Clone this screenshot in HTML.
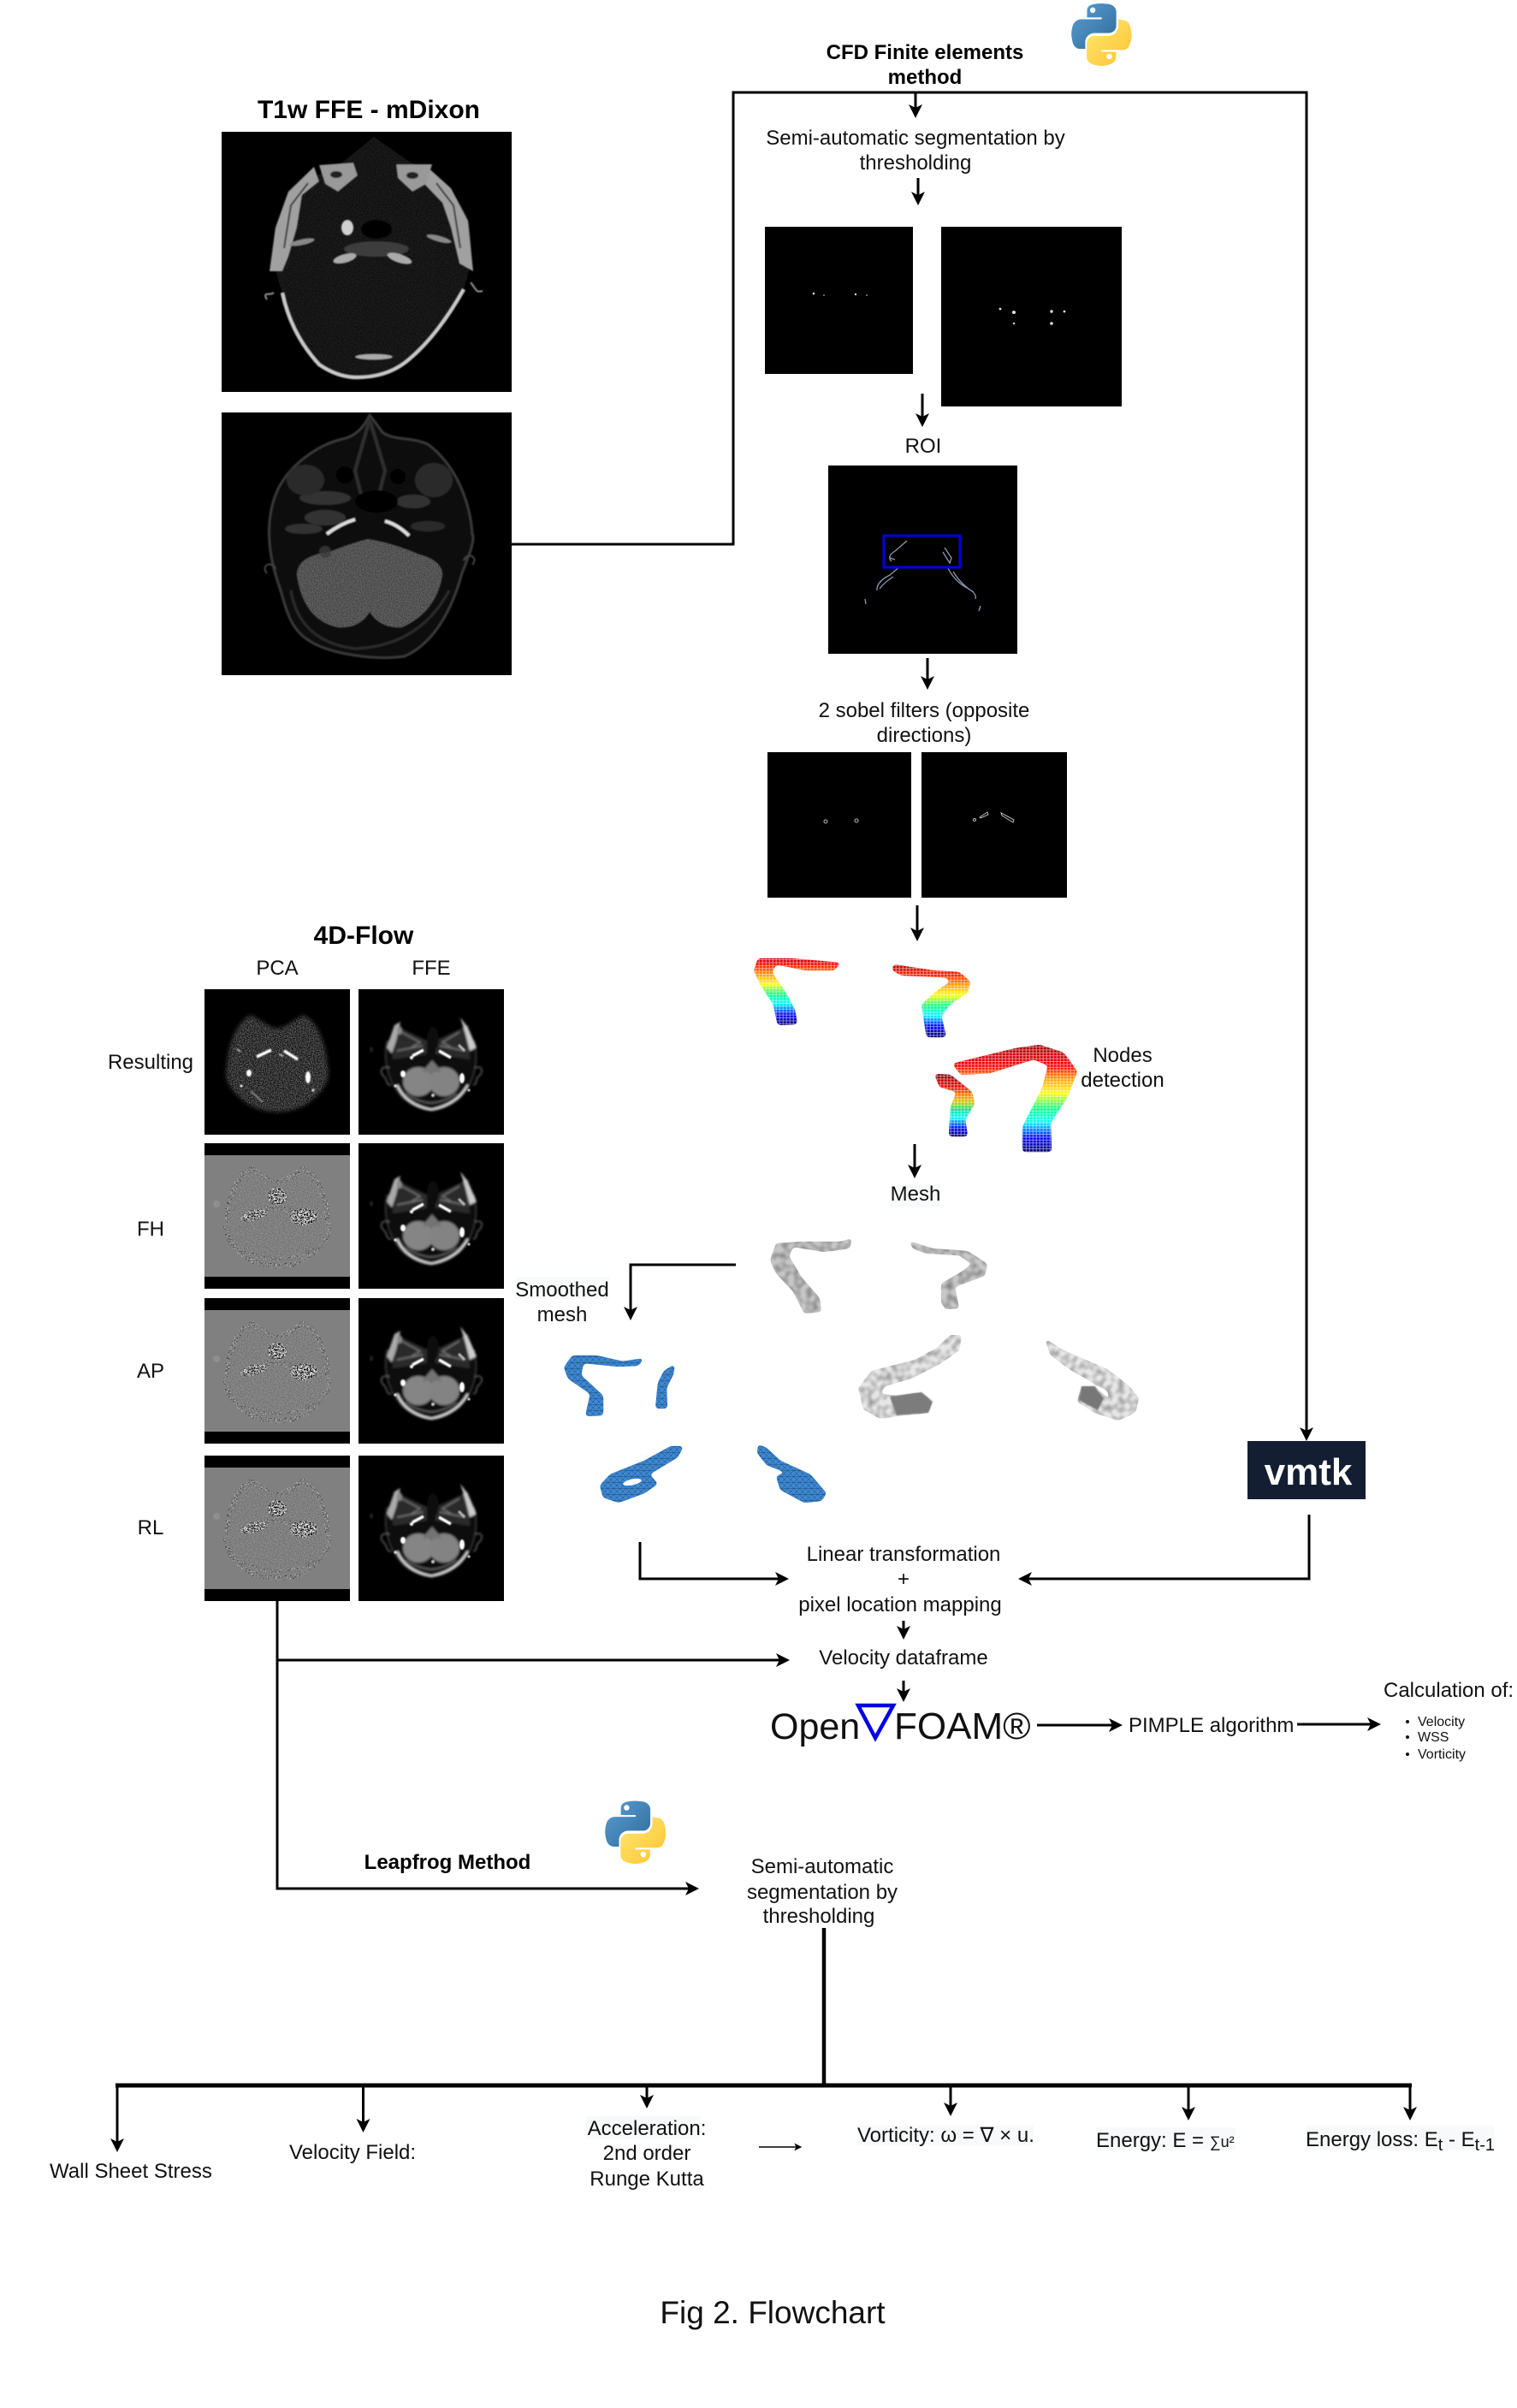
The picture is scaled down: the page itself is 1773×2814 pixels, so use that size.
<!DOCTYPE html>
<html><head><meta charset="utf-8"><title>Fig 2. Flowchart</title>
<style>html,body{margin:0;padding:0;background:#fff}svg{display:block}
text{font-family:"Liberation Sans",sans-serif;font-size:24px;fill:#111}
.b{font-weight:bold;fill:#000}.m{text-anchor:middle}</style></head><body>
<svg xmlns="http://www.w3.org/2000/svg" width="1773" height="2814" viewBox="0 0 1773 2814">
<defs>
<marker id="a" viewBox="0 0 10 10" refX="7.5" refY="5" markerWidth="16" markerHeight="16" markerUnits="userSpaceOnUse" orient="auto"><path d="M0,0L10,5L0,10L2.5,5z" fill="#000"/></marker>
<marker id="s" viewBox="0 0 10 10" refX="7.5" refY="5" markerWidth="9" markerHeight="9" markerUnits="userSpaceOnUse" orient="auto"><path d="M0,0L10,5L0,10L2.5,5z" fill="#000"/></marker>
<filter id="n" x="0" y="0" width="100%" height="100%" color-interpolation-filters="sRGB"><feTurbulence type="fractalNoise" baseFrequency=".8" numOctaves="2" seed="4"/><feColorMatrix type="matrix" values="2 0 0 0 -.5 2 0 0 0 -.5 2 0 0 0 -.5 0 0 0 0 1"/></filter>
<filter id="spw" x="0" y="0" width="100%" height="100%" color-interpolation-filters="sRGB"><feTurbulence type="fractalNoise" baseFrequency=".6" numOctaves="2" seed="9"/><feColorMatrix type="matrix" values="0 0 0 0 1 0 0 0 0 1 0 0 0 0 1 10 0 0 0 -6"/></filter>
<filter id="spb" x="0" y="0" width="100%" height="100%" color-interpolation-filters="sRGB"><feTurbulence type="fractalNoise" baseFrequency=".6" numOctaves="2" seed="15"/><feColorMatrix type="matrix" values="0 0 0 0 0 0 0 0 0 0 0 0 0 0 0 10 0 0 0 -6"/></filter>
<filter id="spw2" x="0" y="0" width="100%" height="100%" color-interpolation-filters="sRGB"><feTurbulence type="fractalNoise" baseFrequency=".6" numOctaves="2" seed="21"/><feColorMatrix type="matrix" values="0 0 0 0 1 0 0 0 0 1 0 0 0 0 1 10 0 0 0 -5"/></filter>
<filter id="spb2" x="0" y="0" width="100%" height="100%" color-interpolation-filters="sRGB"><feTurbulence type="fractalNoise" baseFrequency=".6" numOctaves="2" seed="27"/><feColorMatrix type="matrix" values="0 0 0 0 0 0 0 0 0 0 0 0 0 0 0 10 0 0 0 -5.4"/></filter>
<filter id="bl" x="-5%" y="-5%" width="110%" height="110%"><feGaussianBlur stdDeviation=".7"/></filter>
<filter id="bl1" x="-5%" y="-5%" width="110%" height="110%"><feGaussianBlur stdDeviation="1.3"/></filter>
<filter id="bl2" x="-10%" y="-10%" width="120%" height="120%"><feGaussianBlur stdDeviation="2.5"/></filter>
<filter id="goo" x="-10%" y="-10%" width="120%" height="120%" color-interpolation-filters="sRGB"><feGaussianBlur in="SourceGraphic" stdDeviation="2.5" result="b"/><feComponentTransfer in="b" result="t"><feFuncA type="linear" slope="12" intercept="-5"/></feComponentTransfer><feComposite in="SourceGraphic" in2="t" operator="in" result="c"/><feMerge><feMergeNode in="t"/><feMergeNode in="c"/></feMerge></filter>
<filter id="fac" x="0" y="0" width="100%" height="100%" color-interpolation-filters="sRGB"><feTurbulence type="fractalNoise" baseFrequency=".14" numOctaves="1" seed="2" result="t"/><feColorMatrix in="t" type="matrix" values=".7 0 0 0 .55 .7 0 0 0 .55 .7 0 0 0 .55 0 0 0 0 1" result="g"/><feBlend in="SourceGraphic" in2="g" mode="multiply" result="m"/><feComposite in="m" in2="SourceAlpha" operator="in"/></filter>
<linearGradient id="py1" x1="0" y1="0" x2="1" y2="1"><stop offset="0" stop-color="#5a9fd4"/><stop offset="1" stop-color="#306998"/></linearGradient>
<linearGradient id="py2" x1="0" y1="0" x2="1" y2="1"><stop offset="0" stop-color="#ffe873"/><stop offset="1" stop-color="#ffc331"/></linearGradient>
<g id="py">
<path fill="url(#py1)" d="M54.9,0.9c-4.6,0-9,.4-12.8,1.1C30.8,4,28.7,8.2,28.7,15.9v10.2h26.5v3.4H18.7c-7.7,0-14.4,4.6-16.5,13.4-2.4,10-2.5,16.3,0,26.8,1.9,7.8,6.4,13.4,14.1,13.4h9.1V70.7c0-8.7,7.5-16.3,16.5-16.3h26.5c7.4,0,13.2-6.1,13.2-13.5V15.9c0-7.2-6.1-12.6-13.2-13.8C63.8,1.3,59.4,.9,54.9,.9z"/>
<path fill="url(#py2)" d="M85.3,29.5v12.4c0,9.6-8.2,17.7-17.5,17.7H41.3c-7.3,0-13.2,6.2-13.2,13.5v25.3c0,7.2,6.3,11.4,13.2,13.5,8.4,2.5,16.4,2.9,26.5,0,6.7-1.9,13.2-5.8,13.2-13.5V88.3H54.6V85h39.7c7.7,0,10.6-5.4,13.2-13.4,2.8-8.3,2.7-16.2,0-26.8-1.9-7.6-5.5-13.4-13.2-13.4z"/>
<circle cx="39" cy="13" r="5" fill="#fff"/><circle cx="69" cy="97" r="5" fill="#fff"/>
</g>
<mask id="hdm" maskUnits="userSpaceOnUse" x="0" y="0" width="170" height="170"><path filter="url(#bl2)" fill="#fff" d="M55,30C40,35 28,60 26,90C22,105 30,118 45,130C65,148 105,148 125,130C140,118 148,105 144,90C142,60 130,35 115,30C105,36 95,44 85,46C75,44 65,36 55,30Z"/></mask>
<mask id="spm" maskUnits="userSpaceOnUse" x="0" y="0" width="170" height="170">
<path d="M55,30C40,35 28,60 26,90C22,105 30,118 45,130C65,148 105,148 125,130C140,118 148,105 144,90C142,60 130,35 115,30C105,36 95,44 85,46C75,44 65,36 55,30Z" fill="none" stroke="#888" stroke-width="6"/>
<path d="M50,88Q85,62 122,90" fill="none" stroke="#666" stroke-width="7"/>
<path d="M40,122Q85,148 130,122" fill="none" stroke="#777" stroke-width="4"/></mask>
<mask id="spc" maskUnits="userSpaceOnUse" x="0" y="0" width="170" height="170"><g fill="#fff" filter="url(#bl)"><ellipse cx="85" cy="62" rx="11" ry="10"/><ellipse cx="58" cy="84" rx="16" ry="6" transform="rotate(-15 58 84)"/><ellipse cx="116" cy="86" rx="16" ry="10"/></g></mask>
<clipPath id="c1h"><path d="M330,342Q315,300 322,266Q340,215 400,190L437,160L480,190Q530,210 548,260Q555,300 542,338Q510,395 473,424Q450,441 417,441Q395,441 373,426Q340,390 330,342Z"/></clipPath>
<clipPath id="cbl"><path d="M347,672Q347,650 385,645Q410,635 430,630Q460,635 490,648Q517,655 517,672Q510,715 470,733Q445,735 432,715Q420,735 395,733Q355,725 347,672Z"/></clipPath>
<g id="ffe"><rect width="170" height="170" fill="#000"/>
<g filter="url(#bl1)">
<path d="M33,60C28,85 35,110 52,128C75,146 95,146 118,128C135,110 142,85 135,60" fill="#101010" stroke="#444"/>
<path d="M42,42L80,60L80,76L40,82Z" fill="#2c2c2c"/><path d="M128,42L90,60L90,76L130,82Z" fill="#2c2c2c"/>
<path d="M50,50L72,62L62,68M118,50L98,62L108,68M45,72L75,66M125,72L95,66" fill="none" stroke="#777" stroke-width="1.5"/>
<path d="M33,68L42,42L49,38L44,60L39,75Z" fill="#aaa"/><path d="M138,68L128,45L119,33L125,52L130,72Z" fill="#ccc"/>
<ellipse cx="48" cy="48" rx="3" ry="5" fill="#888"/>
<ellipse cx="87" cy="58" rx="7" ry="14" fill="#0a0a0a"/>
<ellipse cx="70" cy="108" rx="18" ry="17" fill="#858585"/><ellipse cx="100" cy="108" rx="18" ry="17" fill="#838383"/>
<path d="M74,97L86,83L98,97Z" fill="#737373"/>
<path d="M45,112Q55,135 85,141Q115,135 128,112" fill="none" stroke="#ddd" stroke-width="2.6"/>
<path d="M55,122Q70,132 85,133Q100,132 115,122" fill="none" stroke="#666" stroke-width="1.5"/>
<path d="M36,92C26,88 24,98 30,102C34,106 32,112 38,112M136,92C146,88 146,98 140,102C136,106 140,110 134,112" fill="none" stroke="#666" stroke-width="1.5"/>
<path d="M15,68v5" stroke="#444" stroke-width="2"/>
</g>
<g filter="url(#bl)">
<path d="M63,78L76,71M94,72L108,80" stroke="#fff" stroke-width="3.5"/><path d="M117,65L124,72" stroke="#bbb" stroke-width="3"/>
<ellipse cx="52" cy="99" rx="3" ry="4" fill="#fff"/><ellipse cx="121" cy="104" rx="3" ry="6" fill="#fff"/>
<circle cx="43" cy="113" r="1.5" fill="#fff"/><circle cx="129" cy="118" r="1.5" fill="#eee"/><circle cx="87" cy="124" r="2" fill="#ccc"/><circle cx="62" cy="80" r="2" fill="#fff"/>
</g></g>
<g id="ph"><rect width="170" height="170" fill="#000"/><rect y="14" width="170" height="142" fill="#808080"/>
<rect y="14" width="170" height="142" filter="url(#n)" mask="url(#hdm)" opacity=".18"/>
<g mask="url(#spm)"><rect y="14" width="170" height="142" filter="url(#spw)"/><rect y="14" width="170" height="142" filter="url(#spb)"/></g>
<g mask="url(#spc)"><rect y="14" width="170" height="142" filter="url(#spw2)"/><rect y="14" width="170" height="142" filter="url(#spb2)"/></g>
<circle cx="14" cy="71" r="4" fill="#8f8f8f"/>
</g>
<pattern id="dots" width="4" height="3.4" patternUnits="userSpaceOnUse"><path d="M0,3H4M3.2,0V3.4" stroke="#fff" stroke-width=".9" opacity=".6"/></pattern>
<pattern id="msh" width="7" height="7" patternUnits="userSpaceOnUse"><path d="M0,0L7,7M7,0L0,7M0,3.5H7" stroke="#123" stroke-width=".5" opacity=".6"/></pattern>
<linearGradient id="j1" gradientUnits="userSpaceOnUse" x1="0" y1="1118" x2="0" y2="1198"><stop offset="0" stop-color="#a00"/><stop offset=".1" stop-color="#f00"/><stop offset=".28" stop-color="#fa0"/><stop offset=".4" stop-color="#ff0"/><stop offset=".55" stop-color="#0f8"/><stop offset=".68" stop-color="#0ff"/><stop offset=".85" stop-color="#00f"/><stop offset="1" stop-color="#006"/></linearGradient>
<linearGradient id="j2" gradientUnits="userSpaceOnUse" x1="0" y1="1127" x2="0" y2="1212"><stop offset="0" stop-color="#a00"/><stop offset=".15" stop-color="#f20"/><stop offset=".3" stop-color="#fa0"/><stop offset=".42" stop-color="#ff0"/><stop offset=".58" stop-color="#0f8"/><stop offset=".7" stop-color="#0ff"/><stop offset=".85" stop-color="#00f"/><stop offset="1" stop-color="#006"/></linearGradient>
<linearGradient id="j3" gradientUnits="userSpaceOnUse" x1="0" y1="1221" x2="0" y2="1346"><stop offset="0" stop-color="#900"/><stop offset=".2" stop-color="#f00"/><stop offset=".33" stop-color="#fa0"/><stop offset=".45" stop-color="#ff0"/><stop offset=".6" stop-color="#0f8"/><stop offset=".72" stop-color="#0ff"/><stop offset=".87" stop-color="#00f"/><stop offset="1" stop-color="#006"/></linearGradient>
<linearGradient id="j4" gradientUnits="userSpaceOnUse" x1="0" y1="1255" x2="0" y2="1328"><stop offset="0" stop-color="#700"/><stop offset=".2" stop-color="#e00"/><stop offset=".35" stop-color="#f80"/><stop offset=".45" stop-color="#cc0"/><stop offset=".58" stop-color="#0d8"/><stop offset=".7" stop-color="#0ff"/><stop offset=".87" stop-color="#00f"/><stop offset="1" stop-color="#006"/></linearGradient>
<polygon id="v1" points="886,1120 924,1120 983,1125 975,1134 942,1134 907,1127 902,1136 917,1158 929,1180 932,1197 909,1198 904,1174 889,1151 881,1134"/>
<polygon id="v2" points="1044,1127 1090,1134 1121,1136 1134,1147 1131,1160 1110,1174 1100,1187 1106,1212 1083,1212 1077,1174 1095,1158 1111,1147 1105,1142 1054,1140 1043,1134"/>
<polygon id="v3" points="1113,1243 1187,1225 1215,1221 1243,1230 1259,1252 1248,1281 1228,1312 1229,1346 1195,1346 1195,1317 1218,1272 1225,1245 1208,1238 1157,1254 1123,1256"/>
<polygon id="v4" points="1092,1255 1111,1256 1136,1276 1139,1290 1128,1308 1131,1328 1109,1328 1111,1294 1118,1276 1098,1270"/>
<g id="blu">
<polygon points="659,1598 669,1584 697,1584 728,1591 753,1587 746,1596 723,1597 682,1593 679,1607 705,1631 705,1654 684,1655 690,1629 664,1611"/>
<polygon points="776,1602 789,1594 787,1606 779,1622 780,1646 766,1646 769,1616"/>
<polygon points="784,1690 799,1690 792,1703 759,1723 769,1734 753,1745 723,1756 705,1750 701,1736 713,1723 753,1707"/>
<polygon points="886,1688 896,1692 912,1707 947,1723 966,1745 960,1754 940,1756 912,1741 907,1725 919,1721 896,1712 885,1698"/>
</g>
</defs>
<rect width="1773" height="2814" fill="#fff"/>

<!-- T1w images -->
<rect x="259" y="154" width="339" height="304" fill="#000"/>
<g clip-path="url(#c1h)">
<rect x="310" y="155" width="250" height="295" fill="#0c0c0c"/>
<rect x="310" y="155" width="250" height="295" filter="url(#n)" opacity=".09"/>
</g>
<g filter="url(#bl)">
<path d="M330,342Q340,390 373,426Q395,441 417,441Q450,441 473,424Q510,395 542,338" fill="none" stroke="#c8c8c8" stroke-width="4.5"/>
<polygon points="315,317 322,266 337,224 367,195 373,212 353,228 347,266 337,300 330,317" fill="#a0a0a0"/>
<polygon points="553,317 547,258 527,220 497,193 493,212 517,237 527,266 537,308" fill="#a0a0a0"/>
<path d="M332,290L340,240L360,214M538,290L530,240L510,214" fill="none" stroke="#333" stroke-width="2"/>
<path d="M373,193L413,190L418,205L395,224L380,215Z" fill="#999"/><ellipse cx="393" cy="204" rx="7" ry="4" fill="#222"/>
<path d="M463,192L505,192L498,215L482,224L465,208Z" fill="#999"/><ellipse cx="482" cy="205" rx="7" ry="4" fill="#222"/>
<ellipse cx="406" cy="266" rx="7" ry="9" fill="#d0d0d0"/>
<ellipse cx="440" cy="291" rx="38" ry="9" fill="#3c3c3c"/>
<ellipse cx="403" cy="302" rx="14" ry="5" fill="#aaa" transform="rotate(-15 403 302)"/><ellipse cx="467" cy="302" rx="15" ry="5" fill="#aaa" transform="rotate(18 467 302)"/>
<ellipse cx="353" cy="283" rx="15" ry="3.5" fill="#888" transform="rotate(-12 353 283)"/><ellipse cx="513" cy="279" rx="15" ry="3.5" fill="#888" transform="rotate(15 513 279)"/>
<ellipse cx="437" cy="417" rx="22" ry="3.5" fill="#aaa"/>
<ellipse cx="440" cy="268" rx="18" ry="11" fill="#050505"/>
<path d="M312,350C306,340 316,346 320,342M550,330C558,340 556,342 564,340" fill="none" stroke="#999" stroke-width="2"/>
</g>
<rect x="259" y="482" width="339" height="307" fill="#000"/>
<g filter="url(#bl)">
<path d="M432,485C425,500 415,510 400,513C370,520 335,545 322,578C312,605 310,640 327,687C335,715 340,735 360,748C385,765 440,772 473,767C500,755 525,725 540,670C548,650 556,630 552,624C550,590 535,545 500,519C480,510 460,515 447,505C440,495 436,490 432,485Z" fill="#111" stroke="#383838" stroke-width="3"/>
<path d="M340,690Q350,750 415,758Q490,755 525,690" fill="none" stroke="#2c2c2c" stroke-width="3"/>
<path d="M432,490L415,550L425,590M432,490L450,550L440,590" fill="none" stroke="#2e2e2e" stroke-width="4"/>
<ellipse cx="380" cy="582" rx="30" ry="8" fill="#333"/><ellipse cx="357" cy="561" rx="22" ry="18" fill="#2a2a2a"/><ellipse cx="507" cy="561" rx="22" ry="20" fill="#2a2a2a"/><ellipse cx="483" cy="586" rx="20" ry="8" fill="#303030"/><ellipse cx="380" cy="605" rx="24" ry="9" fill="#333"/><ellipse cx="500" cy="615" rx="20" ry="6" fill="#2c2c2c"/><ellipse cx="355" cy="618" rx="22" ry="6" fill="#303030"/>
<ellipse cx="440" cy="586" rx="25" ry="13" fill="#000"/><circle cx="403" cy="555" r="10" fill="#000"/><circle cx="465" cy="557" r="9" fill="#000"/>
<path d="M347,672Q347,650 385,645Q410,635 430,630Q460,635 490,648Q517,655 517,672Q510,715 470,733Q445,735 432,715Q420,735 395,733Q355,725 347,672Z" fill="#4c4c4c"/>
<circle cx="380" cy="645" r="7" fill="#333"/>
<path d="M382,624Q398,612 415,607M450,609Q465,613 478,626" fill="none" stroke="#ddd" stroke-width="4"/>
<path d="M312,670C304,660 318,655 322,665M552,660C560,650 546,645 542,655" fill="none" stroke="#444" stroke-width="2"/>
</g>
<rect x="345" y="628" width="175" height="108" filter="url(#n)" clip-path="url(#cbl)" opacity=".18"/>

<text x="431" y="138" class="b m" style="font-size:30px">T1w FFE - mDixon</text>
<text x="425" y="1103" class="b m" style="font-size:30px">4D-Flow</text>
<text x="1081" y="69" class="b m">CFD Finite elements</text>
<text x="1081" y="98" class="b m">method</text>
<use href="#py" transform="translate(1252,3.5) scale(.645)"/>
<use href="#py" transform="translate(707,2104) scale(.65)"/>

<!-- segmentation boxes -->
<rect x="894" y="265" width="173" height="172" fill="#000"/>
<rect x="1100" y="265" width="211" height="210" fill="#000"/>
<g fill="#ddd"><circle cx="951" cy="343" r="1.3"/><circle cx="1000" cy="344" r="1.2"/><circle cx="963" cy="345" r=".8"/><circle cx="1013" cy="345" r=".8"/><circle cx="1169" cy="361" r="1.4"/><circle cx="1185" cy="365" r="2"/><circle cx="1229" cy="364" r="1.7"/><circle cx="1244" cy="364" r="1.4"/><circle cx="1185" cy="378" r="1.2"/><circle cx="1229" cy="378" r="1.8"/></g>
<rect x="968" y="544" width="221" height="220" fill="#000"/>
<g fill="none" stroke="#8f99b5" stroke-width="1.3"><path d="M1042,656Q1036,650 1046,644L1060,632M1040,652l6,2"/><path d="M1104,640L1112,652L1110,658Q1105,650 1102,645"/><path d="M1025,690Q1024,680 1040,672L1052,662M1028,688Q1034,680 1044,674"/><path d="M1108,664Q1116,680 1132,688Q1142,694 1140,700M1114,668Q1124,684 1138,692"/><path d="M1011,700l1,6M1146,708l-2,6"/></g>
<rect x="1033" y="626" width="89" height="37" fill="none" stroke="#0000e6" stroke-width="3"/>
<rect x="897" y="879" width="168" height="170" fill="#000"/>
<rect x="1077" y="879" width="170" height="170" fill="#000"/>
<g fill="none" stroke="#bbb" stroke-width="1"><circle cx="965" cy="960" r="2"/><circle cx="1001" cy="959" r="2"/><circle cx="1139" cy="958" r="1.5"/><path d="M1145,955L1154,949L1155,952L1146,956Z"/><path d="M1170,950L1185,958L1184,961L1171,953Z"/></g>

<!-- 4D flow grid -->
<g><rect x="239" y="1156" width="170" height="170" fill="#000"/>
<g transform="translate(239,1156)"><rect width="170" height="170" filter="url(#n)" mask="url(#hdm)" opacity=".42"/>
<g filter="url(#bl)"><path d="M61,79L78,71M93,72L109,82" stroke="#fff" stroke-width="3.5"/><ellipse cx="52" cy="98" rx="3" ry="4" fill="#fff"/><ellipse cx="121" cy="103" rx="3" ry="7" fill="#fff"/><path d="M54,119L68,132" stroke="#999" stroke-width="1.5"/><circle cx="43" cy="113" r="1.5" fill="#fff"/><circle cx="127" cy="118" r="1.5" fill="#fff"/><path d="M38,70l4,3M87,76l5,2" stroke="#ccc" stroke-width="1.5"/></g></g></g>
<use href="#ffe" x="419" y="1156"/>
<use href="#ph" x="239" y="1336"/><use href="#ffe" x="419" y="1336"/>
<use href="#ph" x="239" y="1517"/><use href="#ffe" x="419" y="1517"/>
<use href="#ph" x="239" y="1701"/><use href="#ffe" x="419" y="1701"/>
<text x="324" y="1139" class="m">PCA</text><text x="504" y="1139" class="m">FFE</text>
<text x="176" y="1249" class="m">Resulting</text><text x="176" y="1444" class="m">FH</text><text x="176" y="1610" class="m">AP</text><text x="176" y="1793" class="m">RL</text>

<!-- vessels -->
<g filter="url(#goo)"><use href="#v1" fill="url(#j1)"/><use href="#v1" fill="url(#dots)"/></g>
<g filter="url(#goo)"><use href="#v2" fill="url(#j2)"/><use href="#v2" fill="url(#dots)"/></g>
<g filter="url(#goo)"><use href="#v3" fill="url(#j3)"/><use href="#v3" fill="url(#dots)"/></g>
<g filter="url(#goo)"><use href="#v4" fill="url(#j4)"/><use href="#v4" fill="url(#dots)"/></g>
<!-- gray meshes -->
<g filter="url(#fac)"><g filter="url(#goo)"><polygon fill="#c6c6c6" points="907,1453 937,1451 983,1451 996,1447 993,1459 963,1463 927,1457 922,1468 937,1493 958,1517 960,1533 940,1535 927,1509 907,1488 900,1473"/></g></g>
<g filter="url(#fac)"><g filter="url(#goo)"><polygon fill="#c8c8c8" points="1062,1450 1090,1459 1131,1462 1154,1477 1151,1491 1126,1500 1116,1504 1121,1529 1105,1530 1100,1522 1100,1500 1121,1488 1136,1477 1121,1467 1083,1465 1067,1459"/></g></g>
<g filter="url(#fac)"><g filter="url(#goo)"><polygon fill="#e6e6e6" points="1111,1560 1124,1560 1121,1578 1100,1593 1065,1611 1034,1620 1029,1629 1049,1631 1077,1627 1090,1638 1085,1651 1054,1654 1029,1658 1009,1647 1003,1622 1019,1602 1070,1589 1095,1575"/></g></g>
<g filter="url(#bl)"><polygon fill="#7c7c7c" points="1040,1632 1077,1627 1090,1638 1085,1651 1048,1654"/></g>
<g filter="url(#fac)"><g filter="url(#goo)"><polygon fill="#e6e6e6" points="1221,1564 1243,1578 1294,1600 1320,1620 1331,1634 1327,1651 1307,1660 1279,1651 1259,1638 1264,1620 1279,1620 1299,1638 1294,1625 1253,1602 1228,1584"/></g></g>
<g filter="url(#bl)"><polygon fill="#777" points="1261,1636 1264,1620 1279,1620 1290,1634 1283,1648"/></g>
<!-- blue meshes -->
<g filter="url(#goo)"><use href="#blu" fill="#3d88d4"/><use href="#blu" fill="url(#msh)"/></g>
<ellipse cx="739" cy="1732" rx="11" ry="3.5" fill="#fff" transform="rotate(-12 739 1732)"/>

<!-- connectors -->
<g fill="none" stroke="#000" stroke-width="3">
<polyline points="598,636 857,636 857,108 1527,108 1527,1680" marker-end="url(#a)"/>
<line x1="1070" y1="108" x2="1070" y2="134" marker-end="url(#a)"/>
<line x1="1073" y1="208" x2="1073" y2="236" marker-end="url(#a)"/>
<line x1="1078" y1="460" x2="1078" y2="495" marker-end="url(#a)"/>
<line x1="1084" y1="769" x2="1084" y2="802" marker-end="url(#a)"/>
<line x1="1072" y1="1058" x2="1072" y2="1096" marker-end="url(#a)"/>
<line x1="1069" y1="1337" x2="1069" y2="1373" marker-end="url(#a)"/>
<polyline points="860,1478 737,1478 737,1539" marker-end="url(#a)"/>
<polyline points="748,1802 748,1845 918,1845" marker-end="url(#a)"/>
<polyline points="1530,1770 1530,1845 1194,1845" marker-end="url(#a)"/>
<line x1="1056" y1="1894" x2="1056" y2="1912" marker-end="url(#a)"/>
<polyline points="324,1871 324,1940 919,1940" marker-end="url(#a)"/>
<polyline points="324,1940 324,2207 813,2207" marker-end="url(#a)"/>
<line x1="1056" y1="1964" x2="1056" y2="1985" marker-end="url(#a)"/>
<line x1="1212" y1="2016" x2="1308" y2="2016" marker-end="url(#a)"/>
<line x1="1516" y1="2015" x2="1610" y2="2015" marker-end="url(#a)"/>
<line x1="137" y1="2437" x2="137" y2="2511" marker-end="url(#a)"/>
<line x1="424.5" y1="2437" x2="424.5" y2="2488" marker-end="url(#a)"/>
<line x1="756" y1="2437" x2="756" y2="2460" marker-end="url(#a)"/>
<line x1="1111" y1="2437" x2="1111" y2="2469" marker-end="url(#a)"/>
<line x1="1389" y1="2437" x2="1389" y2="2474" marker-end="url(#a)"/>
<line x1="1648" y1="2437" x2="1648" y2="2474" marker-end="url(#a)"/>
<line x1="963" y1="2253" x2="963" y2="2437" stroke-width="4.5"/>
<line x1="135" y1="2437" x2="1650" y2="2437" stroke-width="5"/>
<line x1="887" y1="2509" x2="935" y2="2509" stroke-width="1.5" marker-end="url(#s)"/>
</g>

<!-- vmtk -->
<rect x="1458" y="1684" width="138" height="68" fill="#141e33"/>
<text x="1529" y="1735" class="m" style="font-size:44px;font-weight:bold;fill:#fff">vmtk</text>

<!-- labels -->
<text x="1070" y="169" class="m">Semi-automatic segmentation by</text>
<text x="1070" y="198" class="m">thresholding</text>
<text x="1079" y="529" class="m">ROI</text>
<text x="1080" y="838" class="m">2 sobel filters (opposite</text>
<text x="1080" y="867" class="m">directions)</text>
<text x="1312" y="1241" class="m">Nodes</text>
<text x="1312" y="1270" class="m">detection</text>
<rect x="1041" y="1384" width="58" height="27" fill="#f8f9fa"/>
<text x="1070" y="1403" class="m">Mesh</text>
<rect x="603" y="1492" width="109" height="26" fill="#f8f9fa"/>
<text x="657" y="1515" class="m">Smoothed</text>
<text x="657" y="1544" class="m">mesh</text>
<text x="1056" y="1824" class="m">Linear transformation</text>
<text x="1056" y="1853" class="m">+</text>
<text x="1052" y="1883" class="m">pixel location mapping</text>
<text x="1056" y="1945" class="m">Velocity dataframe</text>
<text x="900" y="2032" style="font-size:43px">Open</text>
<polygon points="1003,1993 1044,1993 1023,2031" fill="none" stroke="#0000e6" stroke-width="4.5"/>
<text x="1045" y="2032" style="font-size:44px">FOAM®</text>
<text x="1319" y="2024">PIMPLE algorithm</text>
<text x="1617" y="1983">Calculation of:</text>
<g fill="#111"><circle cx="1645" cy="2012" r="2"/><circle cx="1645" cy="2030" r="2"/><circle cx="1645" cy="2050" r="2"/></g>
<text x="1657" y="2017" style="font-size:16px">Velocity</text>
<text x="1657" y="2035" style="font-size:16px">WSS</text>
<text x="1657" y="2055" style="font-size:16px">Vorticity</text>
<text x="523" y="2184" class="b m">Leapfrog Method</text>
<text x="961" y="2189" class="m">Semi-automatic</text>
<text x="961" y="2219" class="m">segmentation by</text>
<text x="957" y="2247" class="m">thresholding</text>
<text x="58" y="2545">Wall Sheet Stress</text>
<text x="338" y="2523">Velocity Field:</text>
<rect x="685" y="2473" width="134" height="27" fill="#f8f9fa"/>
<text x="756" y="2495" class="m">Acceleration:</text>
<text x="756" y="2524" class="m">2nd order</text>
<text x="756" y="2554" class="m">Runge Kutta</text>
<rect x="1002" y="2484" width="206" height="23" fill="#f8f9fa"/>
<text x="1002" y="2503">Vorticity: ω = ∇ × u.</text>
<rect x="1281" y="2486" width="163" height="27" fill="#f8f9fa"/>
<text x="1281" y="2509">Energy: E = <tspan style="font-size:18px">∑u²</tspan></text>
<rect x="1526" y="2484" width="221" height="28" fill="#f8f9fa"/>
<text x="1526" y="2508">Energy loss: E<tspan dy="5" style="font-size:20px">t</tspan><tspan dy="-5"> - E</tspan><tspan dy="5" style="font-size:20px">t-1</tspan></text>
<text x="903" y="2715" class="m" style="font-size:37px">Fig 2. Flowchart</text>
</svg>
</body></html>
